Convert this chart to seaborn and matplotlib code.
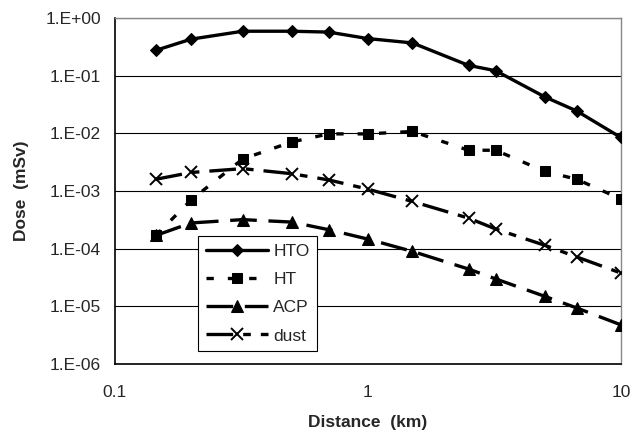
import numpy as np
import pandas as pd
import matplotlib
matplotlib.use("Agg")
import matplotlib.pyplot as plt
import matplotlib.ticker as mticker
import seaborn as sns

# ---- data ----
distance_km = [0.145, 0.2, 0.32, 0.5, 0.7, 1.0, 1.5, 2.5, 3.2, 5.0, 6.7, 10.0]
hto = [0.275, 0.43, 0.59, 0.59, 0.57, 0.44, 0.37, 0.151, 0.122, 0.043, 0.0244, 0.0085]
ht = [1.7e-4, 7.0e-4, 3.6e-3, 7.1e-3, 9.8e-3, 9.8e-3, 1.08e-2, 5.1e-3, 5.1e-3, 2.2e-3, 1.6e-3, 7.3e-4]
acp = [1.7e-4, 2.8e-4, 3.2e-4, 2.9e-4, 2.14e-4, 1.47e-4, 9.0e-5, 4.45e-5, 3.0e-5, 1.5e-5, 9.4e-6, 4.8e-6]
dust = [1.6e-3, 2.1e-3, 2.45e-3, 2.0e-3, 1.56e-3, 1.08e-3, 6.6e-4, 3.4e-4, 2.2e-4, 1.15e-4, 7.2e-5, 3.8e-5]
series_names = ["HTO", "HT", "ACP", "dust"]
x_ticks = [0.1, 1, 10]
x_tick_labels = ["0.1", "1", "10"]
y_ticks = [1e-6, 1e-5, 1e-4, 1e-3, 1e-2, 1e-1, 1e0]

sns.set_style("white")
plt.rcParams["font.family"] = ["Liberation Sans", "DejaVu Sans"]

fig = plt.figure(figsize=(6.42, 4.34), dpi=100)
ax = fig.add_axes([0.179, 0.161, 0.788, 0.7975])

lw = 2.4
styles = {
    "HTO": dict(linestyle="-", marker="D", markersize=6.5, color="black", zorder=4),
    "HT": dict(dashes=(2.2, 4.2), marker="s", markersize=7.5, color="black", zorder=5),
    "ACP": dict(dashes=(8, 3.5), marker="^", markersize=8, color="black", zorder=3),
    "dust": dict(dashes=(8, 3, 2.3, 3), marker="x", markersize=9,
                 markeredgewidth=1.4, color="black", zorder=3),
}
values = {"HTO": hto, "HT": ht, "ACP": acp, "dust": dust}

for name in series_names:
    st = dict(styles[name])
    sns.lineplot(x=distance_km, y=values[name], ax=ax, linewidth=lw,
                 markeredgecolor="black", label=name, **st)

ax.set_xscale("log")
ax.set_yscale("log")
ax.set_xlim(0.1, 10)
ax.set_ylim(1e-6, 1)

ax.set_xticks(x_ticks)
ax.set_xticklabels(x_tick_labels)
ax.xaxis.set_minor_locator(mticker.LogLocator(base=10, subs=np.arange(2, 10)))
ax.xaxis.set_minor_formatter(mticker.NullFormatter())
ax.set_yticks(y_ticks)
ax.yaxis.set_major_formatter(mticker.FuncFormatter(
    lambda v, p: "1.E{:+03d}".format(int(round(np.log10(v))))))
ax.yaxis.set_minor_locator(mticker.NullLocator())

ax.tick_params(axis="x", which="major", direction="inout", length=8, width=1,
               labelsize=12.5, pad=11, color="black")
ax.tick_params(axis="x", which="minor", direction="in", length=4, width=1, color="black")
ax.tick_params(axis="y", which="major", direction="out", length=5, width=1,
               labelsize=12.5, pad=5, color="black")

ax.grid(axis="y", which="major", color="black", linewidth=0.8)
ax.grid(axis="x", visible=False)
for side in ["left", "bottom"]:
    ax.spines[side].set_color("black")
    ax.spines[side].set_linewidth(1.2)
for side in ["top", "right"]:
    ax.spines[side].set_color("#888888")
    ax.spines[side].set_linewidth(1.0)

ax.set_xlabel("Distance  (km)", fontsize=12.5, fontweight="bold", labelpad=11)
ax.set_ylabel("Dose  (mSv)", fontsize=12.5, fontweight="bold", labelpad=12)

h, l = ax.get_legend_handles_labels()
leg = ax.legend(h, l, loc="lower left", bbox_to_anchor=(0.164, 0.037),
                fontsize=12.5, frameon=True, fancybox=False, edgecolor="black",
                handlelength=3.6, handletextpad=0.3, labelspacing=0.75,
                borderpad=0.45, borderaxespad=0, framealpha=1)
leg.get_frame().set_linewidth(0.8)

fig.savefig("out.png", dpi=100)
